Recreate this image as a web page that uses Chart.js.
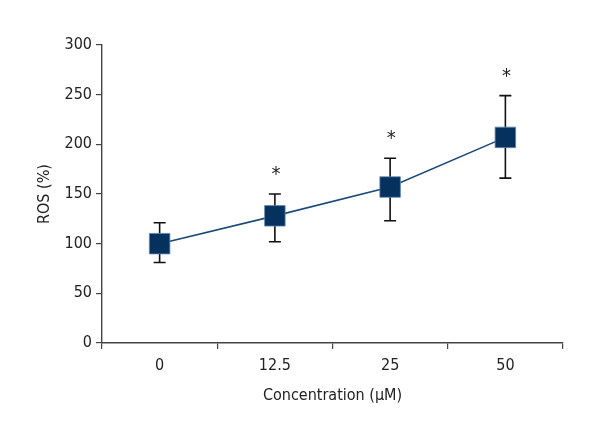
<!DOCTYPE html>
<html>
<head>
<meta charset="utf-8">
<script src="https://cdn.jsdelivr.net/npm/chart.js@4/dist/chart.umd.min.js"></script>
<style>
html,body{margin:0;padding:0;background:#fff;}
#wrap{width:600px;height:440px;}
</style>
</head>
<body>
<div id="wrap"><canvas id="c" width="600" height="440"></canvas></div>
<script>
const categories = ['0', '12.5', '25', '50'];
const rosMean = [100, 128, 157, 207];
const errLower = [81, 102, 123, 166];
const errUpper = [121, 150, 186, 249];
const significance = ['', '*', '*', '*'];
const yTicks = [0, 50, 100, 150, 200, 250, 300];

const FONT = "'DejaVu Sans Condensed', 'Liberation Sans Narrow', sans-serif";

const errorBarPlugin = {
  id: 'errorBars',
  beforeDatasetsDraw(chart) {
    const ctx = chart.ctx;
    const x = chart.scales.x, y = chart.scales.y;
    ctx.save();
    ctx.strokeStyle = '#111';
    ctx.lineWidth = 1.6;
    categories.forEach((c, i) => {
      const px = x.getPixelForValue(i);
      const yl = y.getPixelForValue(errLower[i]);
      const yu = y.getPixelForValue(errUpper[i]);
      ctx.beginPath();
      ctx.moveTo(px, yl); ctx.lineTo(px, yu);
      ctx.moveTo(px - 6, yl); ctx.lineTo(px + 6, yl);
      ctx.moveTo(px - 6, yu); ctx.lineTo(px + 6, yu);
      ctx.stroke();
    });
    ctx.restore();
  },
  afterDatasetsDraw(chart) {
    const ctx = chart.ctx;
    const x = chart.scales.x, y = chart.scales.y;
    ctx.save();
    ctx.fillStyle = '#222';
    ctx.font = "20px " + FONT;
    ctx.textAlign = 'center';
    ctx.textBaseline = 'middle';
    categories.forEach((c, i) => {
      if (!significance[i]) return;
      const px = x.getPixelForValue(i) + 1;
      const yu = y.getPixelForValue(errUpper[i]);
      ctx.fillText(significance[i], px, yu - 19);
    });
    ctx.restore();
  }
};

new Chart(document.getElementById('c'), {
  type: 'line',
  data: {
    labels: categories,
    datasets: [{
      data: rosMean,
      borderColor: '#1c4a7a',
      borderWidth: 1.6,
      pointStyle: 'rect',
      pointRadius: 14.5,
      pointHoverRadius: 14.5,
      pointBackgroundColor: '#04315e',
      pointBorderColor: '#5f86ad',
      pointBorderWidth: 0.8,
      tension: 0,
      fill: false
    }]
  },
  options: {
    responsive: false,
    animation: false,
    events: [],
    layout: { padding: { top: 45, right: 37, left: 31, bottom: 31 } },
    plugins: { legend: { display: false }, tooltip: { enabled: false } },
    scales: {
      x: {
        type: 'category',
        offset: true,
        afterFit(s) { s.height = 66; },
        grid: { offset: true, drawOnChartArea: false, tickLength: 6, color: '#444', lineWidth: 1.2 },
        border: { color: '#444', width: 1.4 },
        ticks: { color: '#222', font: { family: FONT, size: 16 }, padding: 7 },
        title: { display: true, text: 'Concentration (μM)', color: '#222', font: { family: FONT, size: 16 }, padding: { top: 4 } }
      },
      y: {
        min: 0, max: 300,
        afterFit(s) { s.width = 71; },
        afterBuildTicks(s) { s.ticks = yTicks.map(v => ({ value: v })); },
        grid: { drawOnChartArea: false, tickLength: 6, color: '#444', lineWidth: 1.2 },
        border: { color: '#444', width: 1.4 },
        ticks: { color: '#222', font: { family: FONT, size: 16 }, padding: 4 },
        title: { display: true, text: 'ROS (%)', color: '#222', font: { family: FONT, size: 16 }, padding: { top: 4, bottom: 8 } }
      }
    }
  },
  plugins: [errorBarPlugin]
});
</script>
</body>
</html>
